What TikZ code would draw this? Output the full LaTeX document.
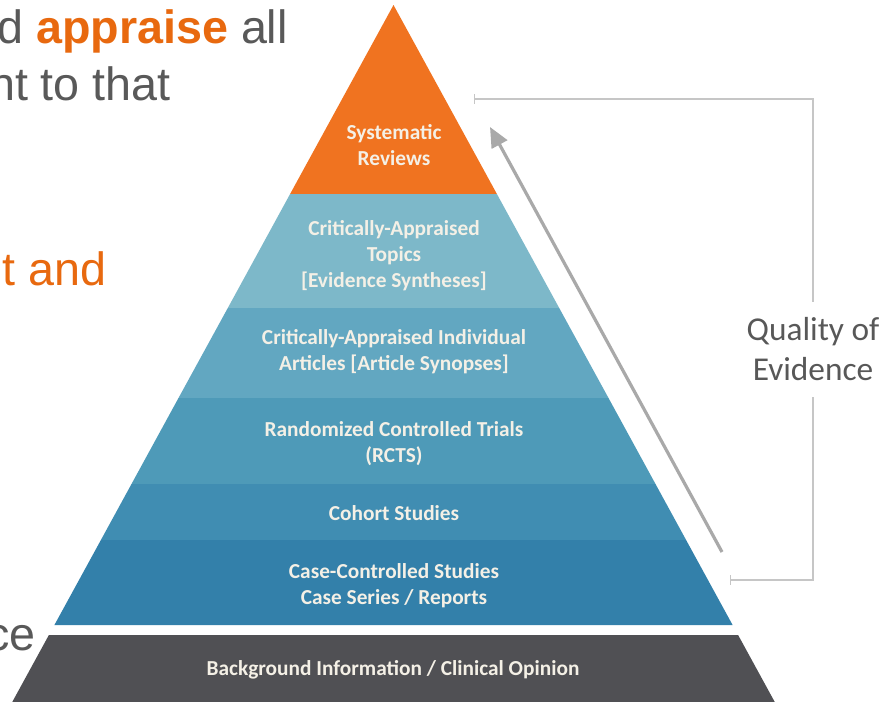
\documentclass[tikz,border=0pt]{standalone}
\usepackage{fontspec}
\setmainfont{Liberation Sans}
\newfontfamily\carl{Carlito}
\usetikzlibrary{arrows.meta}
\definecolor{slgray}{HTML}{595959}
\definecolor{slorange}{HTML}{E8690F}
\definecolor{pyorange}{HTML}{F07320}
\definecolor{bandA}{HTML}{7DB8C9}
\definecolor{bandB}{HTML}{62A7C1}
\definecolor{bandC}{HTML}{4E9AB8}
\definecolor{bandD}{HTML}{408DB2}
\definecolor{bandE}{HTML}{3380AA}
\definecolor{bandF}{HTML}{505054}
\definecolor{lbltext}{HTML}{F4F0E6}
\definecolor{brkgray}{HTML}{C6C6C6}
\definecolor{arrgray}{HTML}{A9A9A9}
\definecolor{qgray}{HTML}{585858}
\tikzset{
  lbl/.style={text=lbltext, align=center, inner sep=0pt,
    font=\carl\bfseries\fontsize{16}{19.5}\selectfont},
  slide/.style={anchor=base east, inner sep=0pt,
    font=\fontsize{35}{42}\selectfont},
  brk/.style={draw=brkgray, line width=1.5pt},
  qarrow/.style={draw=arrgray, line width=2.4pt,
    -{Triangle[length=15pt,width=13pt]}},
}
\begin{document}
\begin{tikzpicture}[x=0.75pt,y=-0.75pt]
\useasboundingbox (0,0) rectangle (891,701);
\fill[white] (0,0) rectangle (891,701);

% slide text (cut off at the left)
\node[slide, text=slgray] (s1) at (288,43) {d \textcolor{slorange}{\bfseries appraise} all};
\node[slide, text=slgray] (s2) at (171,100) {nt to that};
\node[slide, text=slorange] (s3) at (107,285) {t and};
\node[slide, text=slgray] (s4) at (36,650) {ce};

% pyramid bands
\fill[pyorange] (393.5,5) -- (496.9,194) -- (290.1,194) -- cycle;
\fill[bandA] (290.1,194) -- (496.9,194) -- (559.2,308) -- (227.8,308) -- cycle;
\fill[bandB] (227.8,308) -- (559.2,308) -- (608.5,398) -- (178.5,398) -- cycle;
\fill[bandC] (178.5,398) -- (608.5,398) -- (655.5,484) -- (131.5,484) -- cycle;
\fill[bandD] (131.5,484) -- (655.5,484) -- (686.1,540) -- (100.9,540) -- cycle;
\fill[bandE] (100.9,540) -- (686.1,540) -- (732.6,625) -- (54.4,625) -- cycle;
\fill[bandF] (48.9,635) -- (738.1,635) -- (776.4,705) -- (10.6,705) -- cycle;

% labels
\node[lbl] (l1) at (394,145) {Systematic\\Reviews};
\node[lbl] (l2) at (394,256) {Critically-Appraised\\Topics\\{[}Evidence Syntheses{]}};
\node[lbl] (l3) at (394,352) {Critically-Appraised Individual\\Articles {[}Article Synopses{]}};
\node[lbl] (l4) at (394,444) {Randomized Controlled Trials\\(RCTS)};
\node[lbl] (l5) at (394,513) {Cohort Studies};
\node[lbl] (l6) at (394,586) {Case-Controlled Studies\\Case Series / Reports};
\node[lbl] (l7) at (393,670) {Background Information / Clinical Opinion};

% quality of evidence bracket and arrow
\node[text=qgray, align=center, inner sep=0pt, minimum height=71.25pt,
  font=\carl\fontsize{25}{30}\selectfont] (q) at (813,349.5) {Quality of\\Evidence};
\coordinate (bt) at (474,99);
\coordinate (bb) at (730,580);
\draw[brk, {Bar[width=7pt,line width=1pt]}-] (bt) -| (q.north);
\draw[brk, {Bar[width=7pt,line width=1pt]}-] (bb) -| (q.south);
\coordinate (arrS) at (722,552);
\coordinate (arrE) at (490,127);
\draw[qarrow] (arrS) -- (arrE);
\end{tikzpicture}
\end{document}
